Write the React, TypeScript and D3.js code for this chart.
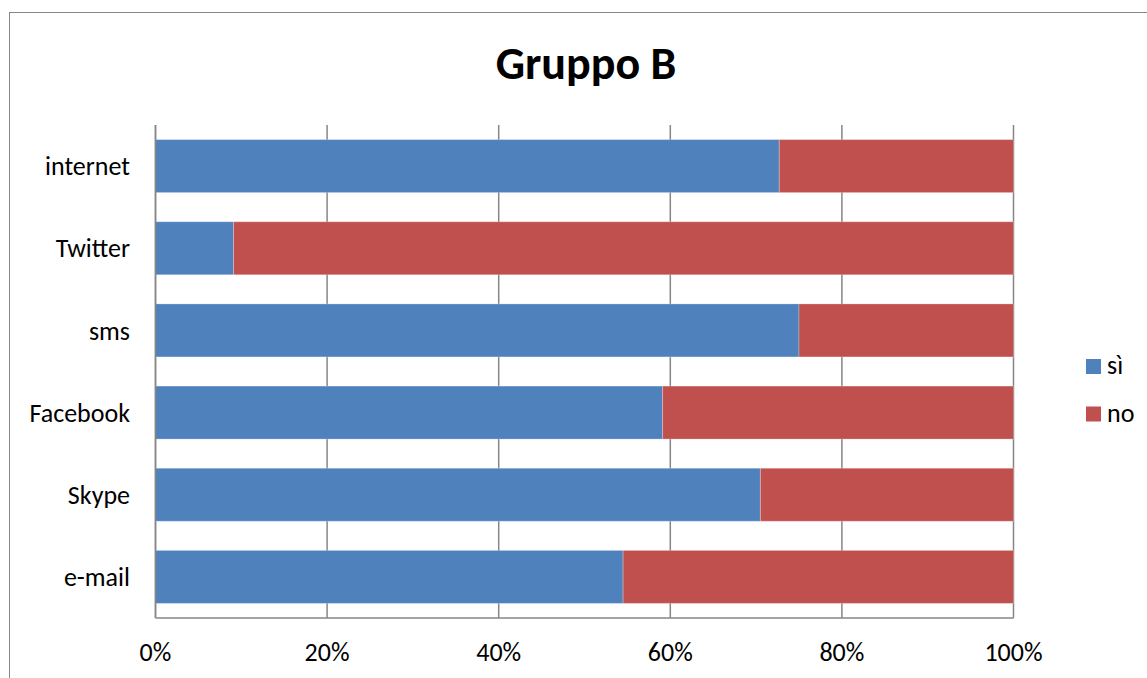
import React from "react";
import * as d3 from "d3";

const categories = ["internet", "Twitter", "sms", "Facebook", "Skype", "e-mail"];
const siValues = [72.7, 9.1, 75.0, 59.1, 70.5, 54.5];
const noValues = [27.3, 90.9, 25.0, 40.9, 29.5, 45.5];
const seriesNames = ["sì", "no"];
const seriesColors = ["#4F81BD", "#C0504D"];
const xTicks = [0, 20, 40, 60, 80, 100];

const W = 1147;
const H = 678;
const FONT = "Carlito, Calibri, Lato, 'Open Sans', sans-serif";

export default function App() {
  const left = 155.5;
  const right = 1013.5;
  const top = 125;
  const bottom = 618;

  const x = d3.scaleLinear().domain([0, 100]).range([left, right]);
  const y = d3
    .scaleBand<string>()
    .domain(categories)
    .range([top, bottom])
    .paddingInner(0.355)
    .paddingOuter(0.1775);

  const stacked = categories.map((c, i) => {
    const vals = [siValues[i], noValues[i]];
    const total = vals[0] + vals[1];
    let acc = 0;
    return vals.map((v, s) => {
      const x0 = (acc / total) * 100;
      acc += v;
      const x1 = (acc / total) * 100;
      return { c, s, x0, x1 };
    });
  });

  return (
    <svg
      width={W}
      height={H}
      style={{ position: "absolute", left: 0, top: 0, background: "#fff" }}
      fontFamily={FONT}
    >
      <rect x={9.5} y={12.5} width={W + 20} height={H + 20} fill="#fff" stroke="#868686" strokeWidth={1} />
      <text x={586} y={79} textAnchor="middle" fontSize={46} fontWeight="bold" fill="#000">
        Gruppo B
      </text>
      {xTicks.map((t) => (
        <line key={"g" + t} x1={x(t)} x2={x(t)} y1={top} y2={bottom} stroke="#868686" strokeWidth={1.5} />
      ))}
      {stacked.map((segs) =>
        segs.map((d) => (
          <rect
            key={d.c + d.s}
            x={x(d.x0)}
            y={y(d.c)!}
            width={x(d.x1) - x(d.x0)}
            height={y.bandwidth()}
            fill={seriesColors[d.s]}
            stroke="rgba(255,255,255,0.25)"
            strokeWidth={1}
          />
        ))
      )}
      <line x1={left} x2={left} y1={top} y2={bottom} stroke="#868686" strokeWidth={1.5} />
      <line x1={left} x2={right} y1={bottom} y2={bottom} stroke="#868686" strokeWidth={1.5} />
      {categories.map((c) => (
        <text
          key={"l" + c}
          x={130}
          y={y(c)! + y.bandwidth() / 2}
          dy="0.35em"
          textAnchor="end"
          fontSize={26}
          fill="#000"
        >
          {c}
        </text>
      ))}
      {xTicks.map((t) => (
        <text key={"t" + t} x={x(t)} y={661} textAnchor="middle" fontSize={26} fill="#000">
          {t}%
        </text>
      ))}
      {seriesNames.map((n, i) => (
        <g key={n} transform={`translate(1086, ${359 + i * 47.5})`}>
          <rect x={0} y={0} width={15} height={15} fill={seriesColors[i]} />
          <text x={21} y={15} fontSize={26} fill="#000">
            {n}
          </text>
        </g>
      ))}
    </svg>
  );
}
